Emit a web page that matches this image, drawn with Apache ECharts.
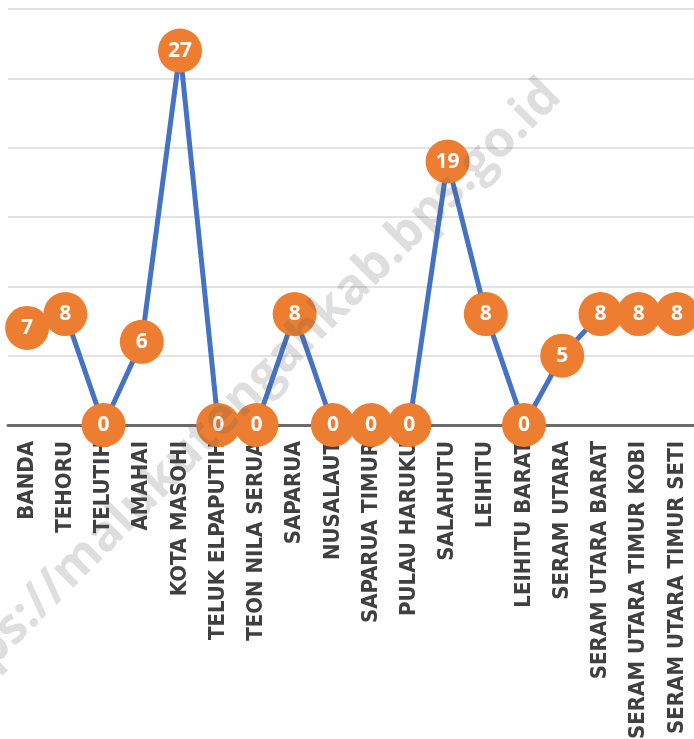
<!DOCTYPE html>
<html>
<head>
<meta charset="utf-8">
<script src="https://cdn.jsdelivr.net/npm/echarts@6/dist/echarts.min.js"></script>
<style>
  html, body { margin: 0; padding: 0; background: #fff; }
  #main { width: 694px; height: 739px; }
</style>
</head>
<body>
<div id="main"></div>
<script>
// kecamatan
var kecamatan = [
    'BANDA', 'TEHORU', 'TELUTIH', 'AMAHAI', 'KOTA MASOHI', 'TELUK ELPAPUTIH',
    'TEON NILA SERUA', 'SAPARUA', 'NUSALAUT', 'SAPARUA TIMUR', 'PULAU HARUKU',
    'SALAHUTU', 'LEIHITU', 'LEIHITU BARAT', 'SERAM UTARA', 'SERAM UTARA BARAT',
    'SERAM UTARA TIMUR KOBI', 'SERAM UTARA TIMUR SETI'
];

var jumlah = [7, 8, 0, 6, 27, 0, 0, 8, 0, 0, 0, 19, 8, 0, 5, 8, 8, 8];

var watermark = 'https://malukutengahkab.bps.go.id';

var myChart = echarts.init(document.getElementById('main'));

myChart.setOption({
    animation: false,
    backgroundColor: '#fff',
    grid: {
        left: 8,
        right: -2,
        top: 9,
        bottom: 314,
        containLabel: false,
        outerBoundsMode: 'none'
    },
    xAxis: {
        type: 'category',
        data: kecamatan,
        axisLine: {
            lineStyle: { color: '#6b6b6b', width: 3 }
        },
        axisTick: { show: false },
        axisLabel: {
            interval: 0,
            rotate: 90,
            margin: 16,
            padding: [6, 0, 0, 0],
            color: '#404040',
            fontFamily: '"DejaVu Sans Condensed", sans-serif',
            fontWeight: 'bold',
            fontSize: 22
        }
    },
    yAxis: {
        type: 'value',
        min: 0,
        max: 30,
        interval: 5,
        axisLabel: { show: false },
        axisLine: { show: false },
        axisTick: { show: false },
        splitLine: {
            lineStyle: { color: '#d9d9d9', width: 1.5 }
        }
    },
    series: [
        {
            type: 'line',
            data: jumlah,
            symbol: 'circle',
            symbolSize: 44,
            lineStyle: { color: '#4472C4', width: 5 },
            itemStyle: { color: '#ED7D31' },
            label: {
                show: true,
                position: 'inside',
                color: '#fff',
                fontFamily: '"Open Sans", sans-serif',
                fontWeight: 'bold',
                fontSize: 21
            }
        }
    ],
    graphic: [
        {
            type: 'text',
            x: 553,
            y: 88,
            rotation: Math.PI / 4,
            z: 100,
            silent: true,
            style: {
                text: watermark,
                align: 'right',
                verticalAlign: 'middle',
                fontFamily: '"Open Sans", sans-serif',
                fontWeight: 'bold',
                fontSize: 50,
                fill: 'rgba(90,90,90,0.2)'
            }
        }
    ]
});

window.addEventListener('resize', function () {
    myChart.resize();
});
</script>
</body>
</html>
